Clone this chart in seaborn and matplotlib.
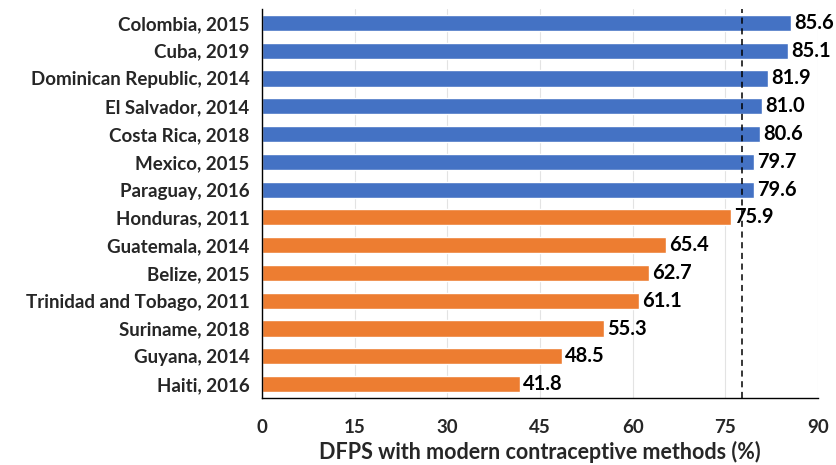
import matplotlib
matplotlib.use("Agg")
import matplotlib.pyplot as plt
import seaborn as sns
import pandas as pd
import numpy as np

countries = ["Colombia, 2015", "Cuba, 2019", "Dominican Republic, 2014", "El Salvador, 2014",
             "Costa Rica, 2018", "Mexico, 2015", "Paraguay, 2016", "Honduras, 2011",
             "Guatemala, 2014", "Belize, 2015", "Trinidad and Tobago, 2011", "Suriname, 2018",
             "Guyana, 2014", "Haiti, 2016"]
values = [85.6, 85.1, 81.9, 81.0, 80.6, 79.7, 79.6, 75.9, 65.4, 62.7, 61.1, 55.3, 48.5, 41.8]
groups = ["high"] * 7 + ["low"] * 7
reference_line = 77.7
x_ticks = [0, 15, 30, 45, 60, 75, 90]
x_label = "DFPS with modern contraceptive methods (%)"

palette = {"high": "#4472C4", "low": "#ED7D31"}

sns.set_theme(style="white")
plt.rcParams["font.family"] = ["Lato", "DejaVu Sans"]

df = pd.DataFrame({"country": countries, "value": values, "group": groups})

fig = plt.figure(figsize=(8.36, 4.65), dpi=100)
ax = fig.add_axes([262/836, 1 - 398/465, (818-262)/836, (398-9)/465])

sns.barplot(data=df, y="country", x="value", hue="group", palette=palette,
            dodge=False, width=0.58, legend=False, ax=ax, saturation=1, zorder=2)

ax.set_xlim(0, 90)
ax.set_ylim(13.5, -0.5)
ax.set_xticks(x_ticks)
ax.set_xticklabels([str(t) for t in x_ticks])
ax.grid(axis="x", color="#e3e3e3", linewidth=0.8, zorder=0)
ax.set_axisbelow(True)

ax.axvline(reference_line, color="black", linestyle=(0, (4, 3)), linewidth=1.1, zorder=3)

for i, v in enumerate(values):
    ax.text(v + 0.5, i, f"{v:.1f}", va="center", ha="left", fontsize=14.5,
            fontweight="bold", color="black", zorder=4)

for s in ["top", "right"]:
    ax.spines[s].set_visible(False)
for s in ["left", "bottom"]:
    ax.spines[s].set_color("black")
    ax.spines[s].set_linewidth(1.0)

ax.set_ylabel("")
ax.set_xlabel(x_label, fontsize=15.5, fontweight="bold", labelpad=4)
ax.tick_params(axis="y", which="major", length=0, pad=9, labelsize=13.5)
ax.set_yticks(np.arange(-0.5, 14, 1), minor=True)
ax.tick_params(axis="y", which="minor", length=4, direction="out", color="black", width=1)
ax.tick_params(axis="x", which="major", length=5, direction="out", color="black", width=1,
               pad=10, labelsize=13.5)
for lbl in ax.get_yticklabels() + ax.get_xticklabels():
    lbl.set_fontweight("bold")

fig.savefig("out.png", dpi=100)
